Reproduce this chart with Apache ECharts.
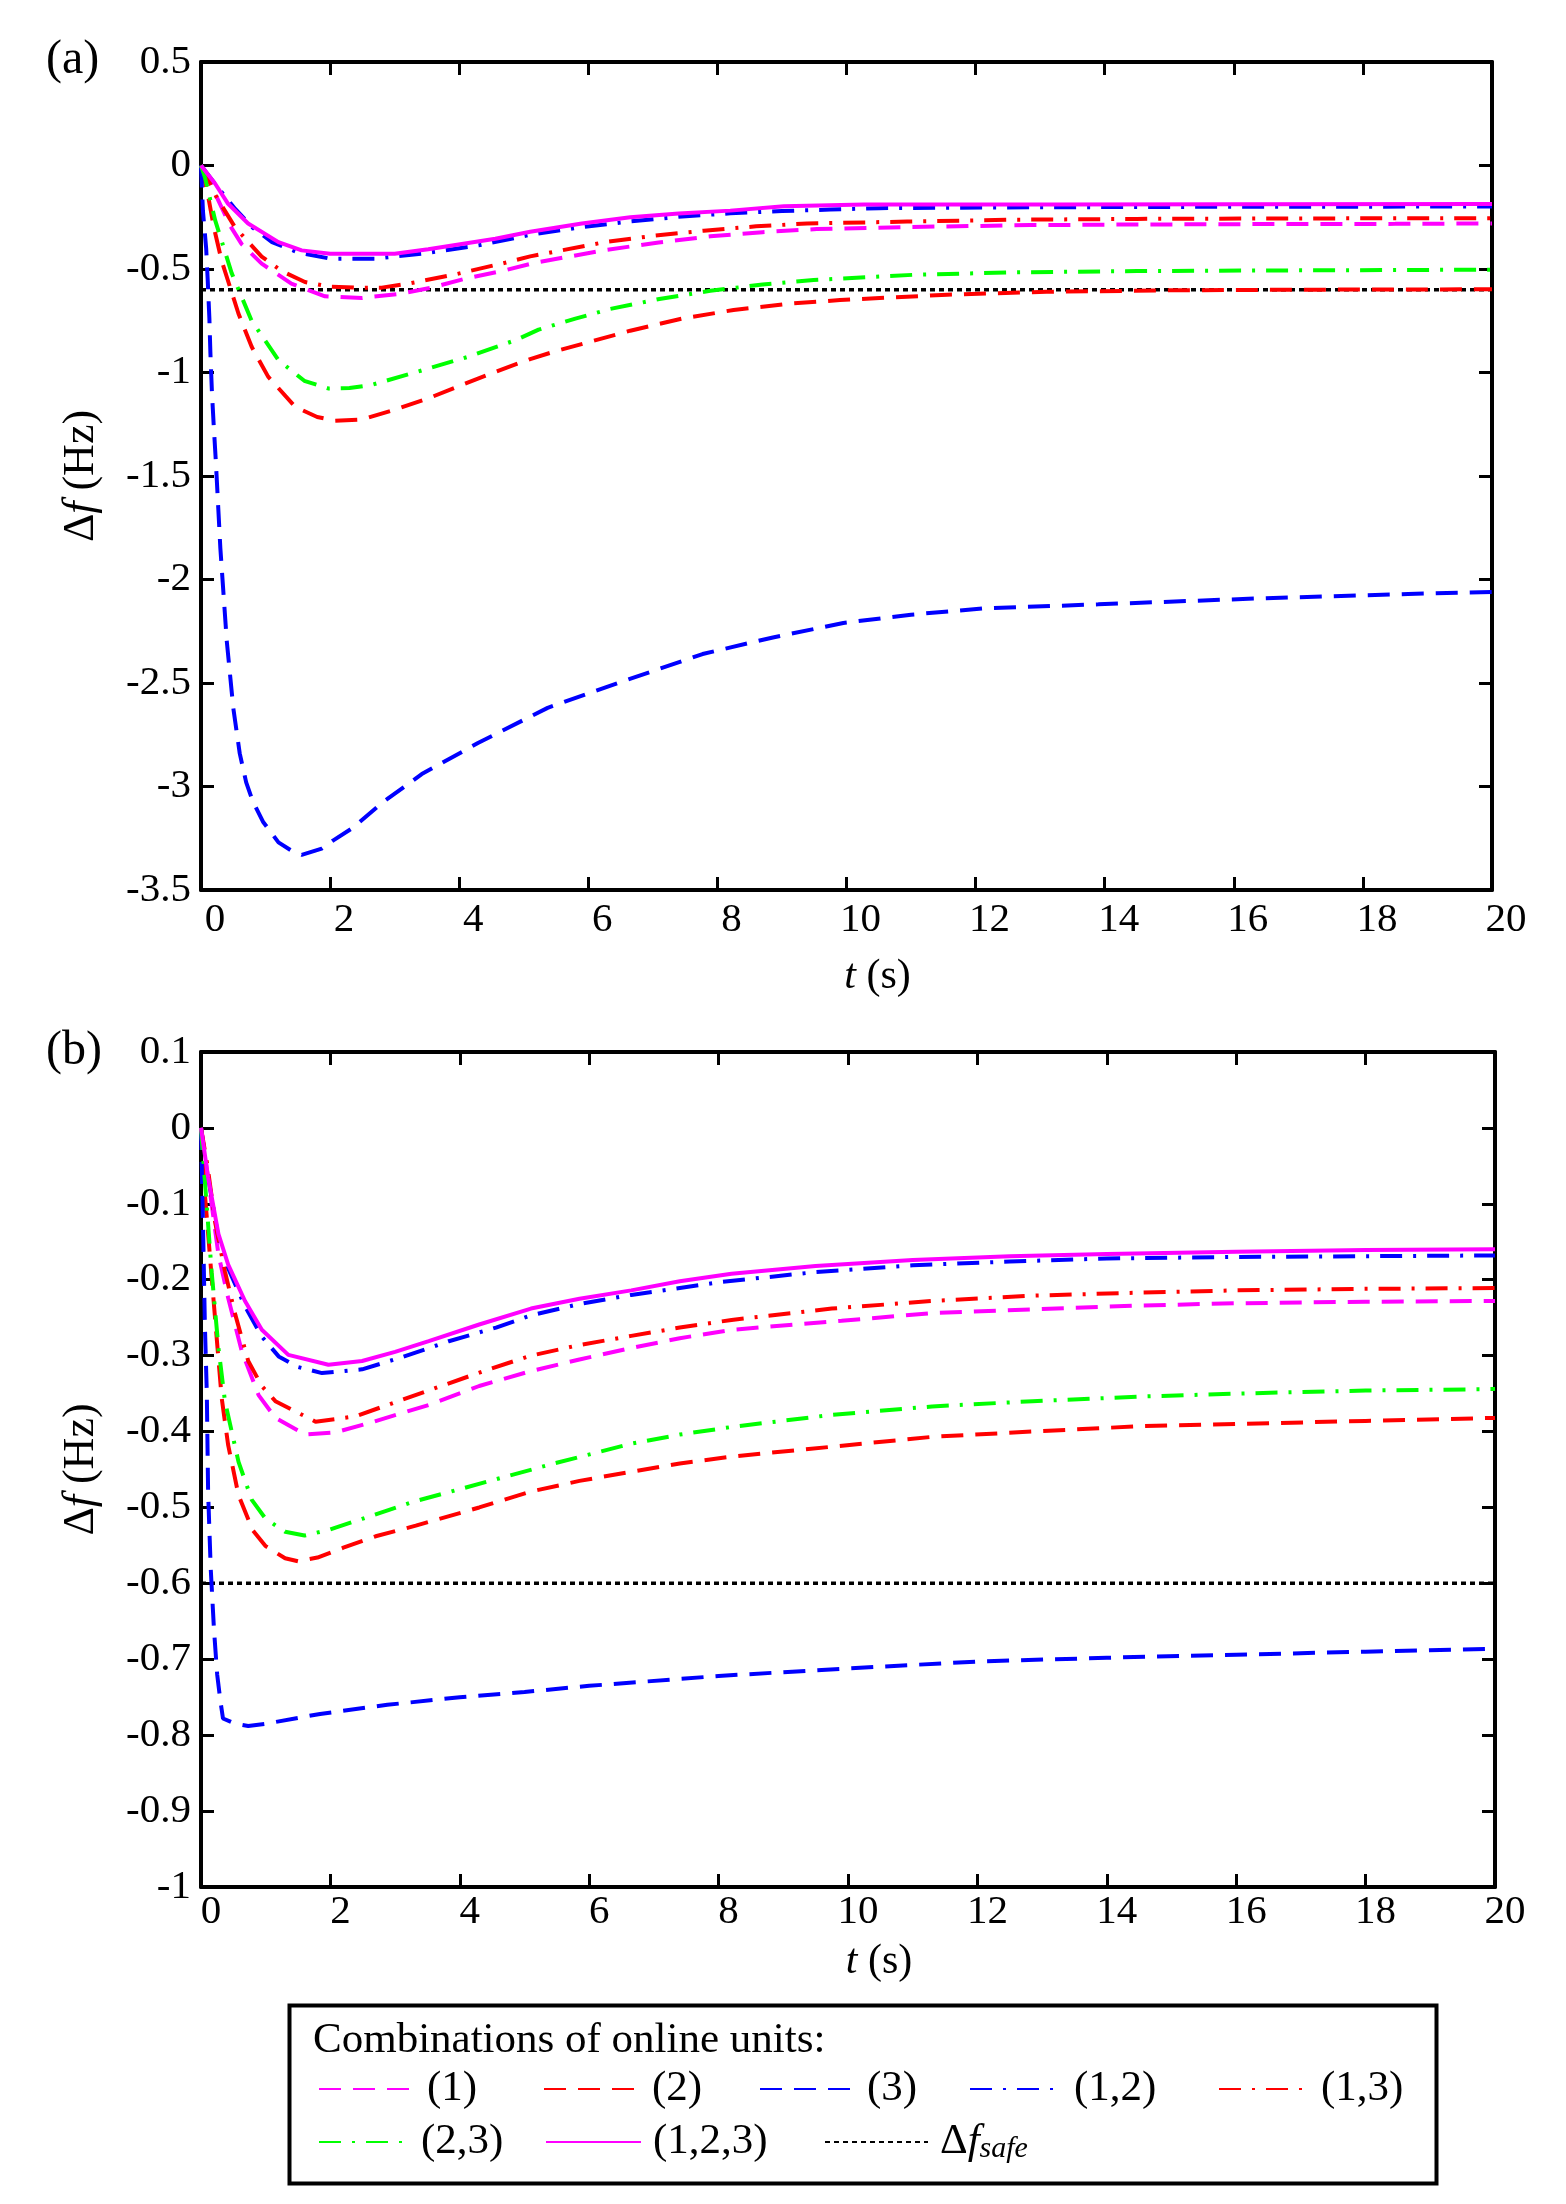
<!DOCTYPE html>
<html>
<head>
<meta charset="utf-8">
<title>Frequency deviation</title>
<script src="https://cdn.jsdelivr.net/npm/echarts@6/dist/echarts.min.js"></script>
<style>
  html, body { margin: 0; padding: 0; background: #fff; }
  #main { width: 1566px; height: 2204px; }
</style>
</head>
<body>
<div id="main"></div>
<script>
// ---- data: [t (s), delta f (Hz)] ----
// panel (a)
var a1 = [[0,0],[0.1,-0.05],[0.27,-0.17],[0.45,-0.29],[0.63,-0.38],[0.94,-0.474],[1.4,-0.571],[1.92,-0.632],[2.49,-0.64],[3.11,-0.619],[3.57,-0.59],[4.09,-0.547],[4.66,-0.51],[5.2,-0.468],[6.29,-0.407],[7.09,-0.372],[7.89,-0.342],[8.7,-0.322],[9.54,-0.307],[11.2,-0.296],[12.85,-0.288],[14.5,-0.285],[16.5,-0.283],[18.5,-0.282],[20,-0.28]];
var a2 = [[0,0],[0.1,-0.13],[0.2,-0.3],[0.32,-0.46],[0.58,-0.715],[0.785,-0.876],[1.04,-1.02],[1.46,-1.166],[1.8,-1.215],[2.08,-1.233],[2.49,-1.227],[3.0,-1.18],[3.52,-1.125],[4.04,-1.06],[4.56,-0.997],[5.1,-0.935],[5.46,-0.9],[6.65,-0.798],[7.45,-0.74],[8.25,-0.698],[9.1,-0.668],[9.9,-0.65],[11.56,-0.624],[13.1,-0.61],[15,-0.603],[17,-0.6],[20,-0.598]];
var a3 = [[0,0],[0.03,-0.22],[0.08,-0.4],[0.105,-0.56],[0.13,-0.74],[0.145,-0.9],[0.17,-1.1],[0.196,-1.25],[0.23,-1.43],[0.3,-1.85],[0.4,-2.3],[0.5,-2.62],[0.6,-2.84],[0.7,-2.98],[0.8,-3.07],[0.96,-3.17],[1.2,-3.27],[1.4,-3.31],[1.56,-3.33],[1.87,-3.3],[2.05,-3.26],[2.35,-3.2],[2.8,-3.08],[3.42,-2.94],[4.29,-2.79],[5.37,-2.62],[6.46,-2.5],[7.77,-2.36],[8.86,-2.28],[9.95,-2.21],[11,-2.17],[12.1,-2.14],[13.9,-2.12],[16.5,-2.09],[18.7,-2.07],[20,-2.06]];
var a12 = [[0,0],[0.22,-0.09],[0.53,-0.21],[0.8,-0.3],[1.1,-0.37],[1.5,-0.42],[2.0,-0.45],[2.7,-0.45],[3.42,-0.426],[4.3,-0.386],[5.1,-0.335],[5.85,-0.3],[6.65,-0.27],[7.4,-0.248],[8.2,-0.231],[9.0,-0.22],[9.75,-0.213],[10.5,-0.206],[12.85,-0.202],[15,-0.2],[17.5,-0.199],[20,-0.198]];
var a13 = [[0,0],[0.1,-0.06],[0.24,-0.153],[0.53,-0.3],[0.94,-0.44],[1.25,-0.51],[1.61,-0.563],[2.0,-0.585],[2.39,-0.59],[2.8,-0.59],[3.21,-0.571],[3.94,-0.526],[4.71,-0.47],[5.1,-0.439],[6.24,-0.371],[7.0,-0.34],[7.79,-0.315],[8.6,-0.294],[9.39,-0.28],[10.94,-0.271],[12.59,-0.262],[14.5,-0.258],[16.5,-0.256],[18.5,-0.255],[20,-0.255]];
var a23 = [[0,0],[0.06,-0.056],[0.22,-0.265],[0.475,-0.52],[0.785,-0.75],[1.2,-0.94],[1.6,-1.04],[1.97,-1.077],[2.3,-1.075],[2.64,-1.06],[3.42,-0.99],[4.14,-0.924],[4.87,-0.844],[5.23,-0.793],[5.8,-0.74],[6.34,-0.693],[7.1,-0.645],[7.89,-0.605],[8.7,-0.575],[9.49,-0.553],[11.04,-0.528],[12.59,-0.516],[14.5,-0.51],[16.5,-0.507],[18.5,-0.505],[20,-0.503]];
var a123 = [[0,0],[0.22,-0.088],[0.42,-0.185],[0.73,-0.28],[1.2,-0.37],[1.56,-0.41],[2.0,-0.426],[3.0,-0.426],[3.52,-0.405],[4.56,-0.354],[5.1,-0.32],[5.9,-0.28],[6.65,-0.25],[7.4,-0.232],[8.2,-0.218],[9.03,-0.197],[10.27,-0.188],[13.15,-0.188],[16,-0.187],[20,-0.186]];
// panel (b)
var b1 = [[0,0],[0.1,-0.06],[0.27,-0.167],[0.42,-0.224],[0.63,-0.294],[0.89,-0.352],[1.15,-0.382],[1.61,-0.404],[2.08,-0.401],[2.59,-0.389],[3.52,-0.365],[4.3,-0.34],[5.07,-0.321],[5.85,-0.305],[6.65,-0.29],[7.4,-0.277],[8.2,-0.266],[9.9,-0.254],[11.3,-0.244],[12.85,-0.239],[14.5,-0.234],[16,-0.231],[18,-0.229],[20,-0.228]];
var b2 = [[0,0],[0.06,-0.087],[0.165,-0.197],[0.32,-0.356],[0.42,-0.418],[0.58,-0.484],[0.8,-0.53],[1.0,-0.551],[1.3,-0.567],[1.5,-0.571],[1.8,-0.566],[2.2,-0.553],[2.7,-0.538],[3.32,-0.524],[4.3,-0.5],[5.1,-0.479],[5.85,-0.465],[6.65,-0.453],[7.4,-0.442],[8.2,-0.433],[9.75,-0.42],[11.3,-0.407],[12.85,-0.4],[14.5,-0.393],[16,-0.39],[18,-0.386],[20,-0.382]];
var b3 = [[0,0],[0.036,-0.15],[0.06,-0.26],[0.09,-0.35],[0.11,-0.48],[0.15,-0.58],[0.2,-0.66],[0.25,-0.72],[0.3,-0.755],[0.34,-0.778],[0.53,-0.785],[0.73,-0.788],[1.0,-0.785],[1.84,-0.772],[2.88,-0.76],[4,-0.75],[5,-0.743],[6,-0.735],[8,-0.722],[10,-0.712],[12,-0.703],[14,-0.698],[16,-0.694],[18,-0.69],[20,-0.686]];
var b12 = [[0,0],[0.11,-0.065],[0.27,-0.145],[0.42,-0.185],[0.68,-0.235],[0.94,-0.275],[1.2,-0.301],[1.5,-0.315],[1.87,-0.323],[2.49,-0.318],[3.11,-0.302],[3.83,-0.281],[4.56,-0.263],[5.1,-0.247],[5.85,-0.232],[6.65,-0.22],[8.04,-0.203],[9.49,-0.19],[11,-0.181],[12.5,-0.176],[14,-0.172],[16,-0.17],[18,-0.169],[20,-0.168]];
var b13 = [[0,0],[0.1,-0.05],[0.22,-0.125],[0.37,-0.189],[0.53,-0.246],[0.73,-0.307],[0.94,-0.34],[1.15,-0.36],[1.77,-0.387],[2.39,-0.38],[3.11,-0.358],[3.78,-0.338],[4.45,-0.318],[5.1,-0.3],[5.85,-0.286],[6.65,-0.274],[7.4,-0.263],[8.2,-0.253],[9.75,-0.238],[11.3,-0.228],[12.85,-0.221],[14.5,-0.217],[16,-0.214],[18,-0.212],[20,-0.211]];
var b23 = [[0,0],[0.06,-0.07],[0.165,-0.19],[0.27,-0.29],[0.37,-0.36],[0.58,-0.44],[0.785,-0.49],[1.0,-0.515],[1.3,-0.532],[1.6,-0.537],[2.0,-0.529],[2.49,-0.515],[3.26,-0.493],[4.04,-0.475],[4.81,-0.457],[5.46,-0.442],[6.65,-0.416],[7.4,-0.404],[8.2,-0.394],[9.75,-0.378],[11.3,-0.367],[12.85,-0.36],[14.5,-0.354],[16,-0.35],[18,-0.346],[20,-0.344]];
var b123 = [[0,0],[0.11,-0.065],[0.27,-0.14],[0.42,-0.18],[0.68,-0.228],[0.94,-0.266],[1.35,-0.299],[1.97,-0.312],[2.49,-0.307],[3.0,-0.295],[3.52,-0.281],[4.3,-0.259],[5.1,-0.238],[5.85,-0.225],[6.65,-0.214],[7.4,-0.202],[8.2,-0.192],[9.5,-0.182],[11,-0.174],[12.5,-0.169],[14,-0.166],[16,-0.163],[18,-0.161],[20,-0.16]];
// safe limit
var safeLine = [[0,-0.6],[20,-0.6]];

var names = ['(1)', '(2)', '(3)', '(1,2)', '(1,3)', '(2,3)', '(1,2,3)', 'safe'];
var xTicks = [0, 20, 2];          // min, max, interval
var yTicksA = [-3.5, 0.5, 0.5];
var yTicksB = [-1, 0.1, 0.1];

var FONT = 'Liberation Serif';
var DASH = [22, 12];
var DASHDOT = [22, 11, 3, 11];
var DOT = [5, 4];
var styles = {
    '(1)':     { color: '#ff00ff', type: DASH },
    '(2)':     { color: '#ff0000', type: DASH },
    '(3)':     { color: '#0000ff', type: DASH },
    '(1,2)':   { color: '#0000ff', type: DASHDOT },
    '(1,3)':   { color: '#ff0000', type: DASHDOT },
    '(2,3)':   { color: '#00ff00', type: DASHDOT },
    '(1,2,3)': { color: '#ff00ff', type: 'solid' },
    'safe':    { color: '#000000', type: DOT }
};

var chart = echarts.init(document.getElementById('main'), null, { renderer: 'canvas' });

var makeSeries = function (name, data, xi, yi) {
    var st = styles[name];
    return {
        name: name,
        type: 'line',
        xAxisIndex: xi,
        yAxisIndex: yi,
        data: data,
        symbol: 'none',
        showSymbol: false,
        smooth: false,
        animation: false,
        color: st.color,
        lineStyle: { color: st.color, width: name === 'safe' ? 3.5 : 4, type: st.type, cap: 'butt' },
        z: name === 'safe' ? 1 : 2
    };
};

var xAxisBase = function (gi, pos, showLabel, padLeft, margin, gap) {
    return {
        type: 'value', gridIndex: gi, position: pos,
        min: xTicks[0], max: xTicks[1], interval: xTicks[2],
        axisLine: { show: true, onZero: false, lineStyle: { color: '#000', width: 4 } },
        axisTick: { show: true, inside: true, length: 13, lineStyle: { color: '#000', width: 3 } },
        axisLabel: {
            show: showLabel, margin: margin, color: '#000',
            fontFamily: FONT, fontSize: 41, padding: [0, 0, 0, padLeft]
        },
        splitLine: { show: false },
        name: showLabel ? '{i|t} (s)' : '',
        nameLocation: 'middle',
        nameGap: gap,
        nameTextStyle: {
            fontFamily: FONT, fontSize: 42, color: '#000', padding: [0, 0, 0, 62],
            rich: { i: { fontFamily: FONT, fontSize: 42, fontStyle: 'italic', color: '#000' } }
        }
    };
};

var yAxisBase = function (gi, pos, showLabel, tk) {
    return {
        type: 'value', gridIndex: gi, position: pos,
        min: tk[0], max: tk[1], interval: tk[2],
        axisLine: { show: true, onZero: false, lineStyle: { color: '#000', width: 4 } },
        axisTick: { show: true, inside: true, length: 13, lineStyle: { color: '#000', width: 3 } },
        axisLabel: { show: showLabel, margin: 10, color: '#000', fontFamily: FONT, fontSize: 41 },
        splitLine: { show: false },
        name: showLabel ? '{n|\u0394}{i|f} (Hz)' : '',
        nameLocation: 'middle',
        nameGap: 98,
        nameTextStyle: {
            fontFamily: FONT, fontSize: 44, color: '#000',
            rich: {
                n: { fontFamily: FONT, fontSize: 44, color: '#000' },
                i: { fontFamily: FONT, fontSize: 44, fontStyle: 'italic', color: '#000' }
            }
        }
    };
};

// one legend block per entry so the entries sit where they do in the figure
var row1 = 2067, row2 = 2120;
var legendSpots = [
    { name: '(1)', left: 318, top: row1, w: 96 },
    { name: '(2)', left: 543, top: row1, w: 96 },
    { name: '(3)', left: 759, top: row1, w: 95 },
    { name: '(1,2)', left: 969, top: row1, w: 92 },
    { name: '(1,3)', left: 1218, top: row1, w: 90 },
    { name: '(2,3)', left: 318, top: row2, w: 90 },
    { name: '(1,2,3)', left: 545, top: row2, w: 95 },
    { name: 'safe', left: 824, top: row2, w: 103 }
];
var legends = legendSpots.map(function (s) {
    return {
        data: [s.name],
        left: s.left, top: s.top,
        orient: 'horizontal',
        padding: 0,
        itemWidth: s.w, itemHeight: 14,
        selectedMode: false,
        itemStyle: { opacity: 0 },
        formatter: s.name === 'safe' ? '{n|\u0394}{i|f}{s|safe}' : '{n|{name}}',
        textStyle: {
            fontFamily: FONT, fontSize: 43, color: '#000', lineHeight: 44, padding: [0, 0, 0, 7],
            rich: {
                n: { fontFamily: FONT, fontSize: 43, color: '#000', lineHeight: 44 },
                i: { fontFamily: FONT, fontSize: 43, fontStyle: 'italic', color: '#000', lineHeight: 44 },
                s: { fontFamily: FONT, fontSize: 30, fontStyle: 'italic', color: '#000', lineHeight: 16, verticalAlign: 'bottom' }
            }
        }
    };
});

var series = [
    makeSeries('safe', safeLine, 0, 0),
    makeSeries('(1)', a1, 0, 0),
    makeSeries('(2)', a2, 0, 0),
    makeSeries('(3)', a3, 0, 0),
    makeSeries('(1,2)', a12, 0, 0),
    makeSeries('(1,3)', a13, 0, 0),
    makeSeries('(2,3)', a23, 0, 0),
    makeSeries('(1,2,3)', a123, 0, 0),
    makeSeries('safe', safeLine, 2, 2),
    makeSeries('(1)', b1, 2, 2),
    makeSeries('(2)', b2, 2, 2),
    makeSeries('(3)', b3, 2, 2),
    makeSeries('(1,2)', b12, 2, 2),
    makeSeries('(1,3)', b13, 2, 2),
    makeSeries('(2,3)', b23, 2, 2),
    makeSeries('(1,2,3)', b123, 2, 2)
];

var option = {
    backgroundColor: '#fff',
    animation: false,
    grid: [
        { left: 201, top: 62, width: 1291, height: 828, containLabel: false },
        { left: 201, top: 1052, width: 1294, height: 835, containLabel: false }
    ],
    xAxis: [
        xAxisBase(0, 'bottom', true, 28, 10, 66),
        xAxisBase(0, 'top', false, 0, 10, 0),
        xAxisBase(1, 'bottom', true, 20, 5, 54),
        xAxisBase(1, 'top', false, 0, 5, 0)
    ],
    yAxis: [
        yAxisBase(0, 'left', true, yTicksA),
        yAxisBase(0, 'right', false, yTicksA),
        yAxisBase(1, 'left', true, yTicksB),
        yAxisBase(1, 'right', false, yTicksB)
    ],
    legend: legends,
    graphic: [
        {
            type: 'text', left: 46, top: 36,
            style: { text: '(a)', font: '48px "Liberation Serif"', fill: '#000' }
        },
        {
            type: 'text', left: 46, top: 1027,
            style: { text: '(b)', font: '48px "Liberation Serif"', fill: '#000' }
        },
        {
            type: 'rect', left: 287, top: 2003, z: 0,
            shape: { width: 1147, height: 178 },
            style: { fill: 'none', stroke: '#000', lineWidth: 4 }
        },
        {
            type: 'text', left: 313, top: 2019,
            style: { text: 'Combinations of online units:', font: '43px "Liberation Serif"', fill: '#000' }
        }
    ],
    series: series
};

chart.setOption(option);
</script>
</body>
</html>
